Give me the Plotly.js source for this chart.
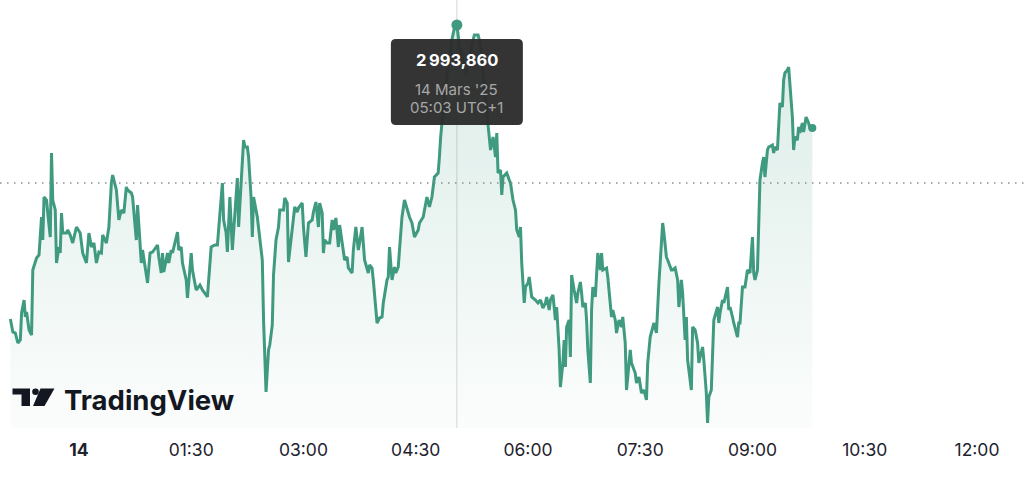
<!DOCTYPE html>
<html><head><meta charset="utf-8">
<script src="https://cdn.plot.ly/plotly-3.0.1.min.js"></script>
<style>html,body{margin:0;padding:0;background:#fff;}#chart{width:1024px;height:486px;}</style>
</head><body><div id="chart"></div>
<script>
// minutes after midnight of 14 Mars 2025 (UTC+1); negative = 13 Mars evening
const minutes = [
 -55,-53,-51,-49,-47,-46,-44,-43,-42,-40,-38,-37,-34,-32,-30,-29,-28,-26,-25,-23,-22,-21,-19,-18,-16,-15,-14,-13,-10,-9,-7,-5,-2,1,3,6,8,10,12,14,16,18,19,22,24,26,27,30,32,34,36,38,39,42,43,
 46,47,50,51,54,55,57,59,63,64, 66,67,68,71,72,74,75,79,80,82, 83,86,87,90,91,94,97,99,102,103, 106,109,111,113,115,116,118,119,121,123, 125,127,128,131,132,133,135,136,138,139, 140,143,144,147,148,149,150,152,153,155, 156,
 158,160,161,164,165,167,168,170,172,173, 175,176,179,180,182,184,187,188,190,192, 193,195,196,197,199,201,203,204,206,208, 209,212,213,215,216,219,220,222,224,225, 227,229,231,232,233,235,236,239,241,243, 244,247,248,249,251,253,254,256,257,259, 261,263,265,
 267,269,272,273,276,279,281,283,285,288, 289,290,292,294,297,299,301,303,305,308, 310,313,315,317,320,322,325,327,328,330, 332,333,334,335,336,338,339,340,343,345, 346,348,350,351,353,354,355,357,358,360, 361,363,366,368,370,372,374,
 375,377,378,380,381,382,383,385,386,388, 389,390,391,393,394,395,397,399,400,402, 403,404,406,407,408,410,411,412,414,415, 416,418,419,420,423,424,426,427,428,430, 431,433,435,436,438,439,440,442,443,446, 447,449,451,453,455,456,458,459,461,463, 464,465,467,468,469,471,472,475,476,478, 480,481,
 483,484,486,487,488,491,492,494,496,497, 498,500,501,503,504,505,507,508,509,512, 513,514,516,517,520,521,522,524,525,528, 529,530,532,534,536,538,540,541,542,544, 545,546,548,549,550,552,553,556,557,558, 560,561,562,564,565,566,568,569,570,572, 573,574,576,577,578,580,581,583,585,586, 588
];
const prices = [
 2979.16,2978.51,2978.46,2977.96,2978.11,2979.46,2980.11,2979.26,2979.51,2978.61,2978.36,2981.61,2982.21,2982.36,2984.26,2983.11,2985.26,2985.11,2984.46,2983.26,2987.46,2985.11,2984.61,2981.96,2982.76,2982.46,2984.46,2983.46,2983.46,2983.61,2983.36,2982.96,2983.76,2983.46,2982.46,2981.96,2983.46,2982.76,2982.96,2981.96,2982.51,2982.46,2983.36,2982.96,2983.76,2985.96,2986.36,2985.61,2984.11,2984.61,2984.46,2985.76,2985.61,2985.46,2985.26,
 2983.11,2984.86,2981.96,2982.61,2981.26,2980.96,2982.46,2982.51,2982.86,2982.26,
 2981.46,2982.46,2981.51,2982.46,2981.96,2982.61,2982.46,2983.51,2982.61,2982.76,
 2981.96,2981.11,2980.21,2982.46,2981.61,2980.61,2980.86,2980.61,2980.36,2980.26,
 2982.76,2982.86,2982.86,2984.46,2985.96,2984.11,2983.46,2982.51,2985.26,2982.61,
 2984.46,2986.21,2983.76,2986.96,2988.11,2987.76,2987.76,2987.26,2985.26,2983.26,
 2985.26,2984.26,2983.76,2982.11,2979.11,2977.46,2975.51,2977.61,2977.86,2978.86,
 2981.36,
 2983.11,2983.76,2984.61,2984.61,2985.21,2984.96,2982.01,2983.11,2984.46,2984.76,
 2984.51,2984.71,2984.96,2983.76,2982.26,2983.96,2984.11,2984.51,2985.01,2983.76,
 2984.96,2984.46,2982.46,2983.11,2982.96,2982.96,2984.11,2983.61,2984.21,2982.76,
 2983.86,2982.46,2982.11,2982.26,2981.71,2981.46,2982.61,2983.76,2982.61,2982.96,
 2983.76,2982.11,2981.61,2981.46,2981.86,2981.71,2981.11,2978.96,2979.21,2979.26,
 2979.96,2981.11,2981.26,2982.76,2981.11,2981.76,2981.46,2981.76,2982.61,2984.26,
 2985.11,2984.61,2984.26,
 2983.96,2983.26,2983.61,2983.96,2984.26,2985.26,2984.76,2985.26,2986.26,2986.46,
 2987.26,2988.26,2989.61,2990.86,2992.11,2993.11,2993.71,2993.86,2992.86,2992.11,
 2991.36,2992.36,2992.86,2993.36,2993.36,2992.86,2991.11,2989.61,2988.86,2987.61,
 2988.26,2987.61,2987.26,2988.46,2986.46,2986.61,2985.36,2986.26,2986.46,2986.11,
 2985.96,2985.11,2984.61,2983.61,2983.26,2983.76,2981.96,2979.96,2980.76,2980.96,
 2981.26,2980.26,2980.11,2979.96,2980.11,2979.71,2979.96,
 2980.26,2979.61,2980.11,2980.36,2979.76,2979.11,2979.76,2977.61,2975.76,2976.96,
 2978.11,2976.76,2978.76,2979.11,2977.26,2981.36,2980.61,2979.96,2980.46,2981.01,
 2980.46,2979.76,2979.96,2979.11,2977.61,2975.96,2979.61,2980.76,2980.26,2981.61,
 2982.46,2981.61,2982.46,2981.61,2981.71,2981.26,2979.61,2979.26,2979.61,2979.11,
 2978.46,2979.11,2978.76,2979.26,2977.96,2975.61,2976.26,2977.61,2976.96,2976.46,
 2975.96,2976.26,2975.46,2975.61,2975.11,2976.96,2978.26,2978.46,2978.96,2978.46,
 2979.96,2980.96,2982.96,2983.96,2983.46,2982.26,2982.11,2981.61,2981.61,2981.71,
 2981.11,2979.76,
 2981.11,2980.46,2978.11,2979.26,2977.11,2975.61,2978.76,2978.61,2977.96,2976.96,
 2977.26,2977.76,2977.11,2975.46,2973.96,2975.26,2975.61,2977.46,2979.11,2979.76,
 2978.96,2979.46,2980.11,2979.96,2980.76,2979.61,2979.76,2979.26,2978.96,2978.26,
 2978.96,2978.96,2980.76,2980.76,2981.61,2981.46,2983.26,2981.46,2981.11,2981.61,
 2984.26,2986.11,2986.96,2987.26,2986.26,2987.61,2987.76,2987.86,2987.46,2987.76,
 2987.61,2988.76,2989.96,2989.76,2991.11,2991.46,2991.61,2991.76,2990.76,2989.26,
 2987.61,2988.26,2988.11,2988.76,2988.46,2988.96,2988.51,2989.26,2988.96,2988.71,
 2988.71
];
const prevClose = 2985.96;
const hoverMinute = 303;
const hoverPrice = 2993.86;
const hoverDate = "14 Mars '25";
const hoverZone = "UTC+1";
const tickMinutes = [0, 90, 180, 270, 360, 450, 540, 630, 720];
const tickLabels = ['<b>14</b>', '01:30', '03:00', '04:30', '06:00', '07:30', '09:00', '10:30', '12:00'];
const brand = 'TradingView';

const xRange = [-63.3, 757.7];
const yRange = [2973.71, 2995.11];
const GREEN = '#3f9a80';
const W = 1024, PH = 428;

function frNum(v, d) {
  const s = v.toFixed(d).split('.');
  return s[0].replace(/\B(?=(\d{3})+(?!\d))/g, '\u202F') + ',' + s[1];
}
function hhmm(m) {
  const h = Math.floor(m / 60), mm = m % 60;
  return String(h).padStart(2, '0') + ':' + String(mm).padStart(2, '0');
}
const PX = p => p / W;
const PY = p => 1 - p / PH;
function pathPaper(pts) {
  return 'M' + pts.map(p => PX(p[0]).toFixed(5) + ',' + PY(p[1]).toFixed(5)).join(' L') + ' Z';
}

const lastMin = minutes[minutes.length - 1];
const lastPrice = prices[prices.length - 1];
const maxPrice = Math.max(...prices);

const traces = [
  {
    x: minutes, y: prices, type: 'scatter', mode: 'lines',
    line: {color: GREEN, width: 3},
    fill: 'tozeroy',
    fillgradient: {type: 'vertical', start: yRange[0], stop: maxPrice,
      colorscale: [[0, 'rgba(63,154,128,0.02)'], [1, 'rgba(63,154,128,0.19)']]},
    hoverinfo: 'skip'
  },
  {
    x: [lastMin], y: [lastPrice], type: 'scatter', mode: 'markers',
    marker: {color: GREEN, size: 8}, hoverinfo: 'skip'
  },
  {
    x: [hoverMinute], y: [hoverPrice], type: 'scatter', mode: 'markers',
    marker: {color: GREEN, size: 11}, hoverinfo: 'skip'
  }
];

const r = 5;
const tip = `M${-66 + r},-14 L${66 - r},-14 Q66,-14 66,${-14 - r} L66,${-100 + r} Q66,-100 ${66 - r},-100 L${-66 + r},-100 Q-66,-100 -66,${-100 + r} L-66,${-14 - r} Q-66,-14 ${-66 + r},-14 Z`;

const shapes = [
  {type: 'line', xref: 'x', yref: 'paper', x0: hoverMinute, x1: hoverMinute, y0: 0, y1: 1,
   line: {color: '#d6d6d6', width: 1}, layer: 'below'},
  {type: 'line', xref: 'paper', yref: 'y', x0: 0, x1: 1, y0: prevClose, y1: prevClose,
   line: {color: '#8a8d96', width: 1.5, dash: '1.5px,5.5px'}, layer: 'above'},
  {type: 'path', xref: 'x', yref: 'y', xsizemode: 'pixel', ysizemode: 'pixel',
   xanchor: hoverMinute, yanchor: hoverPrice, path: tip,
   fillcolor: 'rgba(44,44,44,0.96)', line: {width: 0}, layer: 'above'},
  // logo icon
  {type: 'path', xref: 'paper', yref: 'paper', layer: 'above', fillcolor: '#131722', line: {width: 0},
   path: pathPaper([[12.5, 388.5], [30, 388.5], [30, 406], [21.5, 406], [21.5, 394.5], [12.5, 394.5]])},
  {type: 'circle', xref: 'paper', yref: 'paper', layer: 'above', fillcolor: '#131722', line: {width: 0},
   x0: PX(32.2), x1: PX(38.8), y0: PY(395), y1: PY(388.4)},
  {type: 'path', xref: 'paper', yref: 'paper', layer: 'above', fillcolor: '#131722', line: {width: 0},
   path: pathPaper([[40.5, 388.5], [54.5, 388.5], [44.5, 406], [33, 406]])}
];

const annotations = [
  {x: hoverMinute, y: hoverPrice, xref: 'x', yref: 'y', showarrow: false, yshift: -35,
   text: '<b>' + frNum(hoverPrice, 3) + '</b>', font: {family: 'Inter, sans-serif', size: 16.5, color: '#ffffff'}},
  {x: hoverMinute, y: hoverPrice, xref: 'x', yref: 'y', showarrow: false, yshift: -64,
   text: hoverDate, font: {family: 'Inter, sans-serif', size: 15, color: '#a8a8a8'}},
  {x: hoverMinute, y: hoverPrice, xref: 'x', yref: 'y', showarrow: false, yshift: -82.5,
   text: hhmm(hoverMinute) + ' ' + hoverZone, font: {family: 'Inter, sans-serif', size: 15, color: '#a8a8a8'}},
  {x: PX(62), y: PY(399.5), xref: 'paper', yref: 'paper', xanchor: 'left', yanchor: 'middle', showarrow: false,
   text: '<b>' + brand + '</b>', font: {family: 'Inter, sans-serif', size: 27.5, color: '#131722'}}
];

const layout = {
  width: 1024, height: 486,
  margin: {l: 0, r: 0, t: 0, b: 58, pad: 0},
  paper_bgcolor: '#ffffff', plot_bgcolor: '#ffffff',
  showlegend: false,
  xaxis: {range: xRange, showgrid: false, zeroline: false, showline: false, ticks: '',
    tickmode: 'array', tickvals: tickMinutes, ticktext: tickLabels,
    tickfont: {family: 'Inter, sans-serif', size: 17.5, color: '#1e222d'}, ticklabelstandoff: 9},
  yaxis: {range: yRange, visible: false},
  shapes: shapes, annotations: annotations
};

Plotly.newPlot('chart', traces, layout, {displayModeBar: false, staticPlot: true});
</script></body></html>
